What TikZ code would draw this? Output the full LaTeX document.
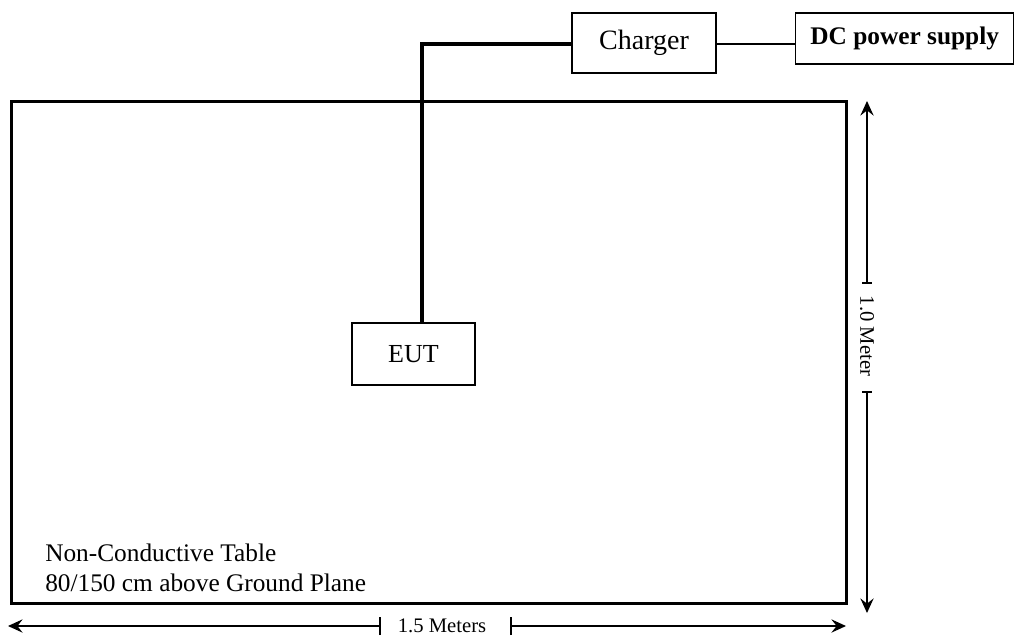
\documentclass[tikz,border=0pt]{standalone}
\usepackage{fontspec}
\setmainfont{Liberation Serif}
\usetikzlibrary{arrows.meta}
\begin{document}
\begin{tikzpicture}[x=0.75pt,y=-0.75pt,
  box/.style={draw,line width=1.1pt,inner sep=0pt},
  wire/.style={line width=2.8pt},
  thinwire/.style={line width=0.9pt},
  dimline/.style={line width=0.9pt},
  tip/.style={-{Stealth[length=11pt,width=10pt,inset=4pt]}},
  dimtext/.style={font=\fontsize{15.5}{18}\selectfont,inner sep=1pt}]
\useasboundingbox (0,0) rectangle (1014,640);
% table
\node[draw,line width=2.6pt,minimum width=835*0.75pt,minimum height=502*0.75pt,inner sep=0pt,anchor=north west] (table) at (10,100) {};
% boxes
\node[box,minimum width=144*0.75pt,minimum height=60*0.75pt,font=\fontsize{21}{24}\selectfont] (charger) at (644,43) {Charger};
\node[box,minimum width=218*0.75pt,minimum height=51*0.75pt,anchor=west,font=\fontsize{19}{22}\selectfont\bfseries] (dc) at (795,38.5) {DC power supply};
\node[box,minimum width=123*0.75pt,minimum height=62*0.75pt,font=\fontsize{19.5}{23}\selectfont] (eut) at (413.5,354) {EUT};
% wires
\coordinate (bend) at (422,44);
\draw[wire] (eut.north -| bend) -- (bend) -- (charger.west |- bend);
\draw[thinwire] (charger.east |- bend) -- (dc.west |- bend);
% table label
\node[anchor=west,align=left,inner sep=0pt,font=\fontsize{19}{22.5}\selectfont] (lbl) at (45,568) {Non-Conductive Table\\80/150 cm above Ground Plane};
% vertical dimension
\coordinate (vtop) at (867,101);
\coordinate (vt1) at (867,283);
\coordinate (vt2) at (867,392);
\coordinate (vbot) at (867,613);
\draw[dimline,tip] (vt1) -- (vtop);
\draw[dimline,tip] (vt2) -- (vbot);
\draw[dimline] ([xshift=-5*0.75pt]vt1) -- ([xshift=5*0.75pt]vt1);
\draw[dimline] ([xshift=-5*0.75pt]vt2) -- ([xshift=5*0.75pt]vt2);
\node[dimtext,rotate=-90] (vlab) at (867,336) {1.0 Meter};
% horizontal dimension
\coordinate (hl) at (8,626);
\coordinate (ht1) at (380,626);
\coordinate (ht2) at (511,626);
\coordinate (hr) at (846,626);
\draw[dimline,tip] (ht1) -- (hl);
\draw[dimline,tip] (ht2) -- (hr);
\draw[dimline] ([yshift=-9*0.75pt]ht1) -- ([yshift=9*0.75pt]ht1);
\draw[dimline] ([yshift=-9*0.75pt]ht2) -- ([yshift=9*0.75pt]ht2);
\node[dimtext] (hlab) at (442,626) {1.5 Meters};
\end{tikzpicture}
\end{document}
